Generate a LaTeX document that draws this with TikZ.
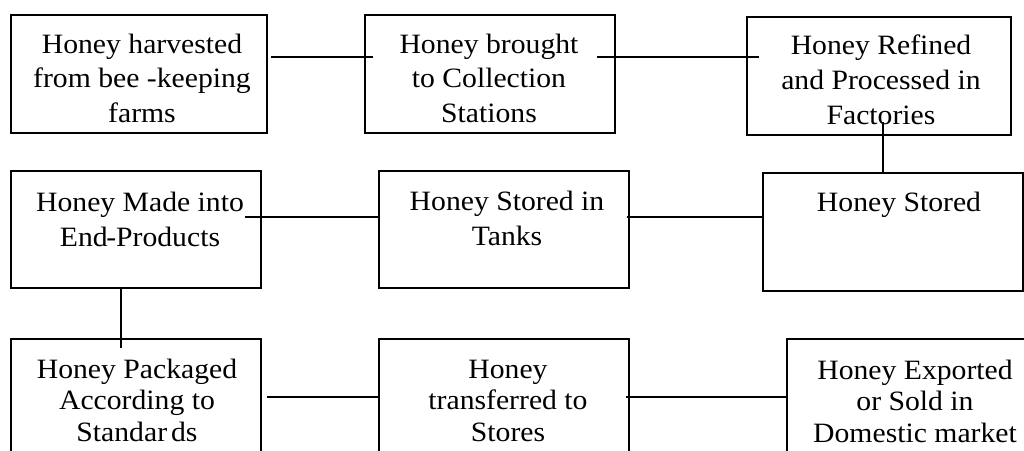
\documentclass[tikz,border=0pt]{standalone}
\usepackage{fontspec}
\setmainfont{Liberation Serif}[FakeStretch=1.06]
\begin{document}
\begin{tikzpicture}[x=1pt,y=-1pt,
  stagebox/.style={draw,line width=1.9pt,rectangle,inner sep=0pt,outer sep=0pt,
    minimum height=118pt},
  label/.style={align=center,anchor=base,inner sep=0pt,font=\fontsize{28}{#1}\selectfont},
  label/.default=34,
  link/.style={line width=1.9pt}]
\clip (0,0) rectangle (1024,450);
\fill[white] (0,0) rectangle (1024,450);

% stage boxes
\node[stagebox,minimum width=256pt] (b1) at (139,74) {};
\node[stagebox,minimum width=250pt] (b2) at (490,74) {};
\node[stagebox,minimum width=264pt] (b3) at (879,76) {};
\node[stagebox,minimum width=250pt,minimum height=117pt] (b4) at (136,229.5) {};
\node[stagebox,minimum width=250pt,minimum height=117pt] (b5) at (504,229.5) {};
\node[stagebox,minimum width=260pt] (b6) at (893,232) {};
\node[stagebox,minimum width=250pt] (b7) at (136,398) {};
\node[stagebox,minimum width=250pt] (b8) at (504,398) {};
\node[stagebox,minimum width=260pt] (b9) at (917,398) {};

% stage texts (placed by the baseline of their last line)
\node[label=34.5] (t1) at (142,122) {Honey harvested\\from bee -keeping\\farms};
\node[label=34.5] (t2) at (489,122) {Honey brought\\to Collection\\Stations};
\node[label=35] (t3) at (881,124) {Honey Refined\\and Processed in\\Factories};
\node[label=35] (t4) at (140,246) {Honey Made into\\End\kern-1.5pt-Products};
\node[label=35] (t5) at (507,245) {Honey Stored in\\Tanks};
\node[label=35] (t6) at (899,211) {Honey Stored};
\node[label=31.5] (t7) at (137,441) {Honey Packaged\\According to\\Standar\kern4pt ds};
\node[label=31.5] (t8) at (508,441) {Honey\\transferred to\\Stores};
\node[label=31.5] (t9) at (915,442) {Honey Exported\\or Sold in\\Domestic market};

% connectors
\draw[link] ([shift={(4pt,17pt)}]b1.east) -- ([shift={(8pt,17pt)}]b2.west);
\draw[link] ([shift={(-18pt,17pt)}]b2.east) -- ([shift={(12pt,19pt)}]b3.west);
\draw[link] ([shift={(4pt,13pt)}]b3.south) -- ([xshift=-10pt]b6.north);
\draw[link] ([shift={(-16pt,12.5pt)}]b4.east) -- ([yshift=12.5pt]b5.west);
\draw[link] ([shift={(-2pt,12.5pt)}]b5.east) -- ([yshift=15pt]b6.west);
\draw[link] ([xshift=-15pt]b4.south) -- ([shift={(-15pt,-9pt)}]b7.north);
\draw[link] ([shift={(6pt,1pt)}]b7.east) -- ([yshift=1pt]b8.west);
\draw[link] ([shift={(-3pt,1pt)}]b8.east) -- ([yshift=1pt]b9.west);
\end{tikzpicture}
\end{document}
